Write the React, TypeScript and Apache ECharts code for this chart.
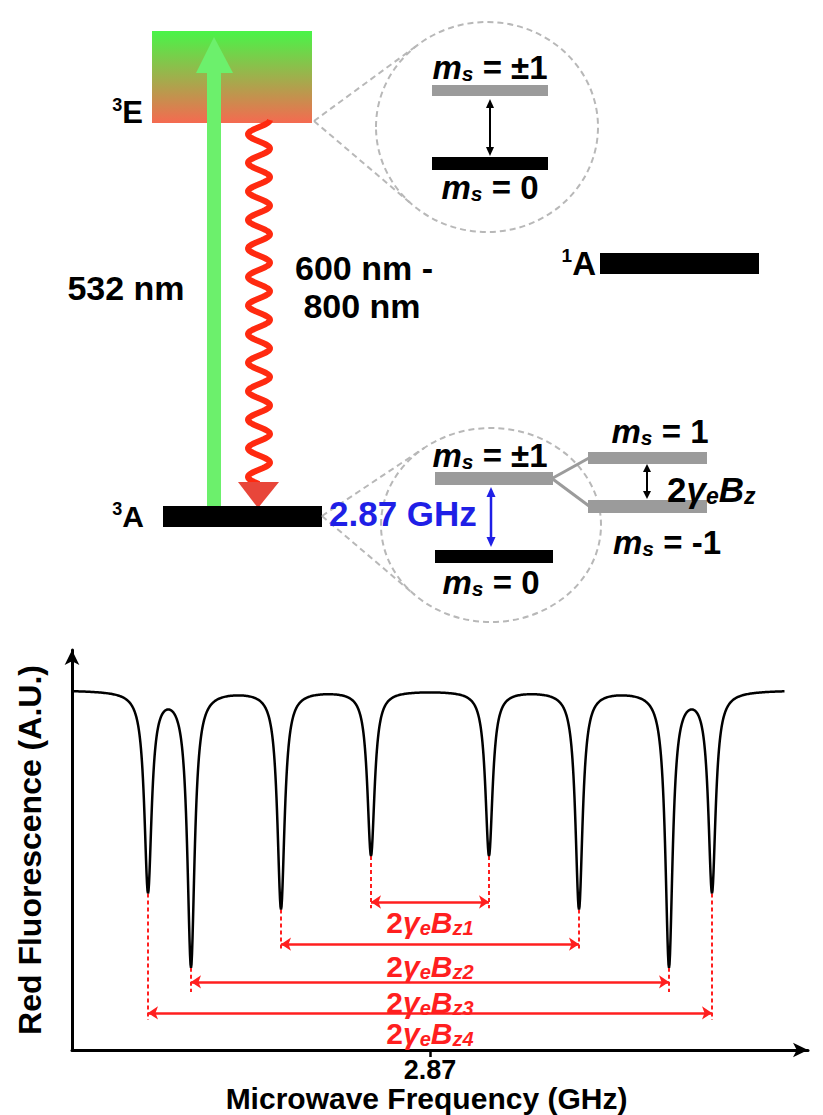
import React, { useEffect, useRef } from "react";
import * as echarts from "echarts";

const FONT = '"Liberation Sans", Arial, Helvetica, sans-serif';

// ---------------- ODMR spectrum data ----------------
const dipCenters = [2.588, 2.631, 2.721, 2.811, 2.929, 3.019, 3.109, 3.152]; // GHz
const dipDepths = [0.556, 0.764, 0.606, 0.458, 0.458, 0.606, 0.764, 0.556]; // fraction of baseline
const dipHalfWidth = 0.0044; // GHz
const baselineLevel = 1.0;
const curveStart = 2.512;
const curveEnd = 3.225;
const freqAxisMin = 2.512;
const freqAxisMax = 3.248;
const fluorAxisMax = 1.111;
const freqTicks = [2.87];

// splitting annotations: pairs of dips, arrow level, dashed-line end, label level
const splitPairs = [
  [3, 4],
  [2, 5],
  [1, 6],
  [0, 7],
];
const splitArrowLevels = [0.411, 0.294, 0.189, 0.103];
const splitDashEnds = [0.394, 0.278, 0.161, 0.083];
const splitLabelLevels = [0.353, 0.231, 0.133, 0.045];
const splitLabelIndex = ["1", "2", "3", "4"];

const RED = "#ff1f1f";

function fluorescence(f: number): number {
  let v = baselineLevel;
  for (let i = 0; i < dipCenters.length; i++) {
    const u = (f - dipCenters[i]) / dipHalfWidth;
    v -= dipDepths[i] / (1 + u * u);
  }
  return v;
}

function buildCurve(): number[][] {
  const fs: number[] = [];
  for (let k = 0; ; k++) {
    const f = curveStart + k * 0.0005;
    if (f > curveEnd + 1e-9) break;
    fs.push(+f.toFixed(5));
  }
  dipCenters.forEach((c) => fs.push(c));
  fs.sort((a, b) => a - b);
  return fs.map((f) => [f, fluorescence(f)]);
}

// ---------------- diagram helpers (decorative drawing) ----------------
function doubleArrow(x: number, y1: number, y2: number, color: string, lw: number, hw: number, hl: number) {
  return {
    type: "group",
    silent: true,
    children: [
      { type: "line", shape: { x1: x, y1: y1 + hl * 0.6, x2: x, y2: y2 - hl * 0.6 }, style: { stroke: color, lineWidth: lw } },
      { type: "polygon", shape: { points: [[x, y1], [x - hw, y1 + hl], [x + hw, y1 + hl]] }, style: { fill: color } },
      { type: "polygon", shape: { points: [[x, y2], [x - hw, y2 - hl], [x + hw, y2 - hl]] }, style: { fill: color } },
    ],
  };
}

function ellipseTangents(px: number, py: number, cx: number, cy: number, rx: number, ry: number) {
  const k = rx / ry;
  const qy = cy + (py - cy) * k;
  const dx = px - cx;
  const dy = qy - cy;
  const d = Math.hypot(dx, dy);
  const a = Math.atan2(dy, dx);
  const b = Math.acos(rx / d);
  return [a + b, a - b].map((ang) => [cx + rx * Math.cos(ang), cy + (rx * Math.sin(ang)) / k]);
}

function zoomEllipse(px: number, py: number, cx: number, cy: number, rx: number, ry: number) {
  const dashed = { stroke: "#b8b8b8", lineWidth: 2, lineDash: [6, 4], fill: "none" };
  const t = ellipseTangents(px, py, cx, cy, rx, ry);
  return [
    { type: "ellipse", silent: true, shape: { cx, cy, rx, ry }, style: { ...dashed } },
    { type: "line", silent: true, shape: { x1: px, y1: py, x2: t[0][0], y2: t[0][1] }, style: { ...dashed } },
    { type: "line", silent: true, shape: { x1: px, y1: py, x2: t[1][0], y2: t[1][1] }, style: { ...dashed } },
  ];
}

const msRich = {
  m: { fontFamily: FONT, fontSize: 33, fontWeight: "bold", fontStyle: "italic", lineHeight: 34, fill: "#000" },
  s: { fontFamily: FONT, fontSize: 21, fontWeight: "bold", fontStyle: "italic", lineHeight: 21, verticalAlign: "bottom", fill: "#000" },
  t: { fontFamily: FONT, fontSize: 33, fontWeight: "bold", lineHeight: 34, fill: "#000" },
};

function msLabel(x: number, y: number, value: string, align = "center") {
  return {
    type: "text",
    silent: true,
    x,
    y,
    style: {
      text: `{m|m}{s|s}{t| = ${value}}`,
      rich: msRich,
      align,
      verticalAlign: "middle",
      textAlign: align,
      textVerticalAlign: "middle",
    },
  };
}

function plainText(x: number, y: number, text: string, size: number, color = "#000", align = "center") {
  return {
    type: "text",
    silent: true,
    x,
    y,
    style: {
      text,
      fill: color,
      fontFamily: FONT,
      fontSize: size,
      fontWeight: "bold",
      align,
      verticalAlign: "middle",
      textAlign: align,
      textVerticalAlign: "middle",
    },
  };
}

function supLabel(x: number, y: number, sup: string, main: string, supSize: number, mainSize: number) {
  return {
    type: "text",
    silent: true,
    x,
    y,
    style: {
      text: `{p|${sup}}{b|${main}}`,
      rich: {
        p: { fontFamily: FONT, fontSize: supSize, fontWeight: "bold", lineHeight: supSize, verticalAlign: "top", fill: "#000" },
        b: { fontFamily: FONT, fontSize: mainSize, fontWeight: "bold", lineHeight: mainSize + 2, fill: "#000" },
      },
      align: "right",
      verticalAlign: "middle",
      textAlign: "right",
      textVerticalAlign: "middle",
    },
  };
}

function buildDiagram(): any[] {
  const els: any[] = [];
  // 3E band with gradient
  els.push({
    type: "rect",
    silent: true,
    shape: { x: 152, y: 31, width: 160, height: 92 },
    style: {
      fill: new echarts.graphic.LinearGradient(0, 0, 0, 1, [
        { offset: 0, color: "#48f548" },
        { offset: 1, color: "#f56a50" },
      ]),
    },
  });
  // green excitation arrow
  els.push({ type: "rect", silent: true, shape: { x: 207, y: 70, width: 14, height: 437 }, style: { fill: "#6cf06c" } });
  els.push({ type: "polygon", silent: true, shape: { points: [[196, 73], [214, 37], [233, 73]] }, style: { fill: "#6cf06c" } });
  // red wavy emission
  const wave: number[][] = [];
  const y0 = 120;
  const y1 = 484;
  const periods = 12.75;
  for (let y = y0; y <= y1; y += 1) {
    wave.push([259 + 11 * Math.cos((2 * Math.PI * periods * (y - y0)) / (y1 - y0)), y]);
  }
  els.push({ type: "polyline", silent: true, shape: { points: wave }, style: { stroke: "#ff2a10", lineWidth: 6, fill: "none", lineJoin: "round" } });
  els.push({ type: "polygon", silent: true, shape: { points: [[238, 482], [279, 482], [258, 508]] }, style: { fill: "#e8463a" } });
  // levels
  els.push({ type: "rect", silent: true, shape: { x: 163, y: 506, width: 159, height: 21 }, style: { fill: "#000" } });
  els.push({ type: "rect", silent: true, shape: { x: 600, y: 253, width: 159, height: 21 }, style: { fill: "#000" } });
  els.push(supLabel(143, 112, "3", "E", 18, 31));
  els.push(supLabel(144, 516, "3", "A", 18, 30));
  els.push(supLabel(596, 263, "1", "A", 19, 33));
  els.push(plainText(126, 288, "532 nm", 34));
  els.push(plainText(364, 268, "600 nm -", 34));
  els.push(plainText(362, 306, "800 nm", 34));

  // upper zoom ellipse (3E fine structure)
  els.push(...zoomEllipse(314, 121, 487, 127, 111, 105));
  els.push(msLabel(490, 67, "±1"));
  els.push({ type: "rect", silent: true, shape: { x: 432, y: 85, width: 116, height: 11 }, style: { fill: "#9b9b9b" } });
  els.push(doubleArrow(490, 99, 156, "#000", 2, 4, 9));
  els.push({ type: "rect", silent: true, shape: { x: 432, y: 157, width: 116, height: 13 }, style: { fill: "#000" } });
  els.push(msLabel(490, 187, "0"));

  // lower zoom ellipse (3A fine structure)
  els.push(...zoomEllipse(322, 516, 491, 525, 110, 97));
  els.push(msLabel(490, 455, "±1"));
  els.push({ type: "rect", silent: true, shape: { x: 435, y: 472, width: 118, height: 13 }, style: { fill: "#9b9b9b" } });
  els.push({ type: "line", silent: true, shape: { x1: 552, y1: 478.5, x2: 589, y2: 458 }, style: { stroke: "#9b9b9b", lineWidth: 3 } });
  els.push({ type: "line", silent: true, shape: { x1: 552, y1: 478.5, x2: 589, y2: 506 }, style: { stroke: "#9b9b9b", lineWidth: 3 } });
  els.push({ type: "rect", silent: true, shape: { x: 588, y: 452, width: 119, height: 12 }, style: { fill: "#9b9b9b" } });
  els.push({ type: "rect", silent: true, shape: { x: 588, y: 500, width: 119, height: 13 }, style: { fill: "#9b9b9b" } });
  els.push(msLabel(660, 431, "1"));
  els.push(msLabel(667, 542, "-1"));
  els.push(doubleArrow(647, 464, 499, "#000", 2, 4, 8));
  els.push({
    type: "text",
    silent: true,
    x: 667,
    y: 489,
    style: {
      text: "{n|2}{g|γ}{s|e}{b|B}{s|z}",
      rich: {
        n: { fontFamily: FONT, fontSize: 35, fontWeight: "bold", lineHeight: 36, fill: "#000" },
        g: { fontFamily: FONT, fontSize: 35, fontWeight: "bold", fontStyle: "italic", lineHeight: 36, fill: "#000" },
        b: { fontFamily: FONT, fontSize: 35, fontWeight: "bold", fontStyle: "italic", lineHeight: 36, fill: "#000" },
        s: { fontFamily: FONT, fontSize: 23, fontWeight: "bold", fontStyle: "italic", lineHeight: 23, verticalAlign: "bottom", fill: "#000" },
      },
      align: "left",
      verticalAlign: "middle",
      textAlign: "left",
      textVerticalAlign: "middle",
    },
  });
  els.push(plainText(329, 513, "2.87 GHz", 35, "#1f1fe6", "left"));
  els.push(doubleArrow(491, 487, 547, "#1f1fe6", 2.5, 4.5, 10));
  els.push({ type: "rect", silent: true, shape: { x: 435, y: 550, width: 118, height: 13 }, style: { fill: "#000" } });
  els.push(msLabel(491, 582, "0"));
  return els;
}

export default function App() {
  const ref = useRef<HTMLDivElement>(null);
  useEffect(() => {
    document.body.style.margin = "0";
    if (!ref.current) return;
    const chart = echarts.init(ref.current, undefined, { renderer: "svg" });

    const curve = buildCurve();
    const dashData: any[] = [];
    const arrowData: any[] = [];
    const labelData: any[] = [];
    splitPairs.forEach((pair, i) => {
      pair.forEach((j) => {
        const c = dipCenters[j];
        dashData.push({ coords: [[c, fluorescence(c)], [c, splitDashEnds[i]]] });
      });
      arrowData.push({ coords: [[dipCenters[pair[0]], splitArrowLevels[i]], [dipCenters[pair[1]], splitArrowLevels[i]]] });
      labelData.push([(dipCenters[pair[0]] + dipCenters[pair[1]]) / 2, splitLabelLevels[i], i]);
    });

    const labelRich = {
      n: { fontFamily: FONT, fontSize: 30, fontWeight: "bold", lineHeight: 31, fill: RED },
      g: { fontFamily: FONT, fontSize: 30, fontWeight: "bold", fontStyle: "italic", lineHeight: 31, fill: RED },
      b: { fontFamily: FONT, fontSize: 30, fontWeight: "bold", fontStyle: "italic", lineHeight: 31, fill: RED },
      s: { fontFamily: FONT, fontSize: 20, fontWeight: "bold", fontStyle: "italic", lineHeight: 20, verticalAlign: "bottom", fill: RED },
    };

    chart.setOption({
      animation: false,
      backgroundColor: "#ffffff",
      grid: { left: 72, right: 15, top: 650, bottom: 65, containLabel: false, outerBoundsMode: "none" },
      xAxis: {
        type: "value",
        min: freqAxisMin,
        max: freqAxisMax,
        axisLine: { show: true, lineStyle: { color: "#000", width: 3 }, symbol: ["none", "arrow"], symbolSize: [11, 15] },
        axisTick: { show: true, customValues: freqTicks, length: 7, lineStyle: { color: "#000", width: 2.5 } },
        axisLabel: {
          show: true,
          customValues: freqTicks,
          formatter: (v: number) => v.toFixed(2),
          color: "#000",
          fontFamily: FONT,
          fontSize: 27,
          fontWeight: "bold",
          margin: 6,
        },
        splitLine: { show: false },
        name: "Microwave Frequency (GHz)",
        nameLocation: "middle",
        nameGap: 30,
        nameTextStyle: { color: "#000", fontFamily: FONT, fontSize: 30, fontWeight: "bold", padding: [0, 27, 0, 0] },
      },
      yAxis: {
        type: "value",
        min: 0,
        max: fluorAxisMax,
        axisLine: { show: true, lineStyle: { color: "#000", width: 3 }, symbol: ["none", "arrow"], symbolSize: [11, 15] },
        axisTick: { show: false },
        axisLabel: { show: false },
        splitLine: { show: false },
        name: "Red Fluorescence (A.U.)",
        nameLocation: "middle",
        nameGap: 26,
        nameTextStyle: { color: "#000", fontFamily: FONT, fontSize: 32, fontWeight: "bold" },
      },
      graphic: { elements: buildDiagram() },
      series: [
        {
          type: "line",
          data: curve,
          showSymbol: false,
          symbol: "none",
          lineStyle: { color: "#000", width: 2.5 },
          z: 3,
        },
        {
          type: "lines",
          coordinateSystem: "cartesian2d",
          data: dashData,
          symbol: "none",
          lineStyle: { color: RED, width: 2, type: [4, 3], opacity: 1 },
          z: 2,
        },
        {
          type: "lines",
          coordinateSystem: "cartesian2d",
          data: arrowData,
          symbol: ["arrow", "arrow"],
          symbolSize: 10,
          lineStyle: { color: RED, width: 2.5, opacity: 1 },
          z: 2,
        },
        {
          type: "custom",
          coordinateSystem: "cartesian2d",
          data: labelData,
          renderItem: (params: any, api: any) => {
            const pt = api.coord([api.value(0), api.value(1)]);
            const idx = api.value(2);
            return {
              type: "text",
              x: pt[0],
              y: pt[1],
              style: {
                text: `{n|2}{g|γ}{s|e}{b|B}{s|z${splitLabelIndex[idx]}}`,
                rich: labelRich,
                align: "center",
                verticalAlign: "middle",
                textAlign: "center",
                textVerticalAlign: "middle",
              },
            };
          },
          z: 4,
        },
      ],
    });
    return () => chart.dispose();
  }, []);
  return <div ref={ref} style={{ width: 823, height: 1115 }} />;
}
